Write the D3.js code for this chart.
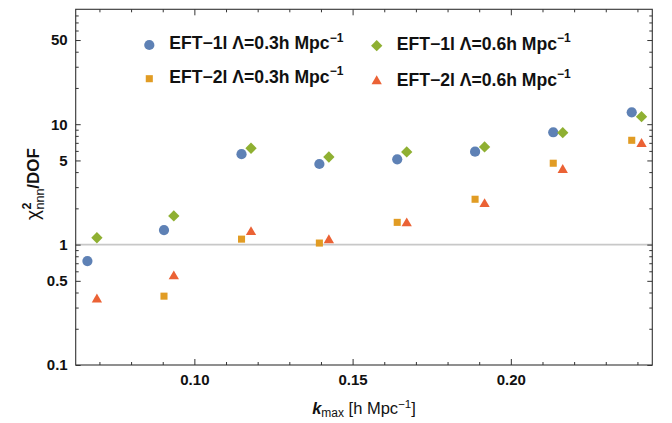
<!DOCTYPE html>
<html>
<head>
<meta charset="utf-8">
<script src="https://cdn.jsdelivr.net/npm/d3@7"></script>
<style>
  html, body { margin: 0; padding: 0; background: #fff; }
  svg { display: block; font-family: "Liberation Sans", Arial, sans-serif; }
</style>
</head>
<body>
<svg id="chart" width="672" height="423"></svg>
<script>
// ---------------- data ----------------
const seriesNames = [
  "EFT\u22121l \u039B=0.3h Mpc",
  "EFT\u22121l \u039B=0.6h Mpc",
  "EFT\u22122l \u039B=0.3h Mpc",
  "EFT\u22122l \u039B=0.6h Mpc"
];
const kEft1l03 = [0.0662, 0.0904, 0.1149, 0.1395, 0.1641, 0.1887, 0.2134, 0.2382];
const chiEft1l03 = [0.73, 1.32, 5.63, 4.67, 5.11, 5.91, 8.57, 12.55];
const kEft1l06 = [0.0692, 0.0935, 0.1179, 0.1425, 0.1671, 0.1917, 0.2164, 0.2413];
const chiEft1l06 = [1.14, 1.73, 6.31, 5.34, 5.88, 6.47, 8.50, 11.54];
const kEft2l03 = [0.0904, 0.1149, 0.1395, 0.1641, 0.1887, 0.2134, 0.2382];
const chiEft2l03 = [0.373, 1.11, 1.03, 1.53, 2.38, 4.74, 7.35];
const kEft2l06 = [0.0692, 0.0935, 0.1179, 0.1425, 0.1671, 0.1917, 0.2164, 0.2413];
const chiEft2l06 = [0.350, 0.545, 1.27, 1.086, 1.50, 2.17, 4.16, 6.84];

const xMajorTicks = [0.10, 0.15, 0.20];
const xTickLabels = ["0.10", "0.15", "0.20"];
const xMinorTicks = [0.07, 0.08, 0.09, 0.11, 0.12, 0.13, 0.14, 0.16, 0.17, 0.18, 0.19, 0.21, 0.22, 0.23, 0.24];
const yMajorTicks = [0.1, 0.5, 1, 5, 10, 50];
const yTickLabels = ["0.1", "0.5", "1", "5", "10", "50"];
const yMinorTicks = [0.2, 0.3, 0.4, 0.6, 0.7, 0.8, 0.9, 2, 3, 4, 6, 7, 8, 9, 20, 30, 40, 60, 70, 80];
const referenceLine = 1;

// ---------------- layout ----------------
const L = 75.7, R = 652.3, T = 9.3, B = 365;
const svg = d3.select("#chart");
const x = d3.scaleLinear().domain([0.0625, 0.2447]).range([L, R]);
const y = d3.scaleLog().domain([0.1, 90]).range([B, T]);

const colors = ["#5E81B5", "#8FB032", "#E19C24", "#EB6235"];
const symbols = [
  d3.symbol().type(d3.symbolCircle).size(82),
  d3.symbol().type(d3.symbolSquare).size(64),
  d3.symbol().type(d3.symbolSquare).size(50),
  d3.symbol().type(d3.symbolTriangle).size(46)
];
const rotations = [0, 45, 0, 0];

// reference line
svg.append("line")
  .attr("x1", L).attr("x2", R)
  .attr("y1", y(referenceLine)).attr("y2", y(referenceLine))
  .attr("stroke", "#c8c8c8").attr("stroke-width", 1.6);

// axes
const tickFont = g => g.selectAll("text")
  .attr("font-size", 15).attr("font-weight", "bold").attr("fill", "#111")
  .attr("font-family", "Liberation Sans, Arial, sans-serif");
const clean = g => { g.select(".domain").remove(); g.selectAll("line").attr("stroke", "#333"); };

svg.append("g").attr("transform", `translate(0,${B})`)
  .call(d3.axisBottom(x).tickValues(xMajorTicks).tickFormat((d, i) => xTickLabels[i]).tickSize(-6).tickPadding(9))
  .call(clean).call(tickFont);
svg.append("g").attr("transform", `translate(0,${B})`)
  .call(d3.axisBottom(x).tickValues(xMinorTicks).tickFormat("").tickSize(-3))
  .call(clean);
svg.append("g").attr("transform", `translate(0,${T})`)
  .call(d3.axisTop(x).tickValues(xMajorTicks).tickFormat("").tickSize(-6))
  .call(clean);
svg.append("g").attr("transform", `translate(0,${T})`)
  .call(d3.axisTop(x).tickValues(xMinorTicks).tickFormat("").tickSize(-3))
  .call(clean);

svg.append("g").attr("transform", `translate(${L},0)`)
  .call(d3.axisLeft(y).tickValues(yMajorTicks).tickFormat((d, i) => yTickLabels[i]).tickSize(-5).tickPadding(8))
  .call(clean).call(tickFont);
svg.append("g").attr("transform", `translate(${L},0)`)
  .call(d3.axisLeft(y).tickValues(yMinorTicks).tickFormat("").tickSize(-3))
  .call(clean);
svg.append("g").attr("transform", `translate(${R},0)`)
  .call(d3.axisRight(y).tickValues(yMajorTicks).tickFormat("").tickSize(-5))
  .call(clean);
svg.append("g").attr("transform", `translate(${R},0)`)
  .call(d3.axisRight(y).tickValues(yMinorTicks).tickFormat("").tickSize(-3))
  .call(clean);

// frame
svg.append("rect").attr("x", L).attr("y", T).attr("width", R - L).attr("height", B - T)
  .attr("fill", "none").attr("stroke", "#333").attr("stroke-width", 1.1);

// points
const series = [
  { k: kEft1l03, v: chiEft1l03 },
  { k: kEft1l06, v: chiEft1l06 },
  { k: kEft2l03, v: chiEft2l03 },
  { k: kEft2l06, v: chiEft2l06 }
];
series.forEach((s, si) => {
  svg.append("g").selectAll("path").data(s.k.map((k, i) => [k, s.v[i]])).join("path")
    .attr("d", symbols[si])
    .attr("transform", d => `translate(${x(d[0])},${y(d[1])}) rotate(${rotations[si]})`)
    .attr("fill", colors[si]);
});

// legend
const legendPos = [
  { mx: 149.3, my: 45, tx: 169.3, ty: 49 },
  { mx: 376.7, my: 45.7, tx: 396.7, ty: 49.7 },
  { mx: 149.3, my: 78.7, tx: 169.3, ty: 82.7 },
  { mx: 376.7, my: 81.3, tx: 396.7, ty: 85.7 }
];
seriesNames.forEach((name, i) => {
  const p = legendPos[i];
  svg.append("path").attr("d", symbols[i])
    .attr("transform", `translate(${p.mx},${p.my}) rotate(${rotations[i]})`)
    .attr("fill", colors[i]);
  const t = svg.append("text").attr("x", p.tx).attr("y", p.ty)
    .attr("font-size", 17.6).attr("font-weight", "bold").attr("fill", "#111");
  t.append("tspan").text(name);
  t.append("tspan").attr("dy", -7.5).attr("font-size", 12).text("\u22121");
});

// x label
const xl = svg.append("text").attr("x", (L + R) / 2).attr("y", 414)
  .attr("text-anchor", "middle").attr("font-size", 16.5).attr("fill", "#111");
xl.append("tspan").attr("font-weight", "bold").attr("font-style", "italic").text("k");
xl.append("tspan").attr("font-size", 12).attr("dy", 3).text("max");
xl.append("tspan").attr("dy", -3).text(" [h Mpc");
xl.append("tspan").attr("font-size", 11.5).attr("dy", -6.5).text("\u22121");
xl.append("tspan").attr("dy", 6.5).text("]");

// y label
const yg = svg.append("g");
const chi = yg.append("text").attr("x", 0).attr("y", 0).attr("font-size", 19).attr("fill", "#111").text("\u03C7");
const w1 = chi.node().getComputedTextLength();
const sup = yg.append("text").attr("x", w1 + 0.5).attr("y", -8).attr("font-size", 12.5).attr("font-weight", "bold").attr("fill", "#111").text("2");
const sub = yg.append("text").attr("x", w1 + 0.5).attr("y", 4.5).attr("font-size", 12.5).attr("fill", "#111").text("nnn");
const w2 = Math.max(sup.node().getComputedTextLength(), sub.node().getComputedTextLength());
const rest = yg.append("text").attr("x", w1 + 0.5 + w2).attr("y", 0).attr("font-size", 17).attr("font-weight", "bold").attr("fill", "#111").text("/DOF");
const total = w1 + 0.5 + w2 + rest.node().getComputedTextLength();
yg.attr("transform", `translate(39,184) rotate(-90) translate(${-total / 2},0)`);
</script>
</body>
</html>
